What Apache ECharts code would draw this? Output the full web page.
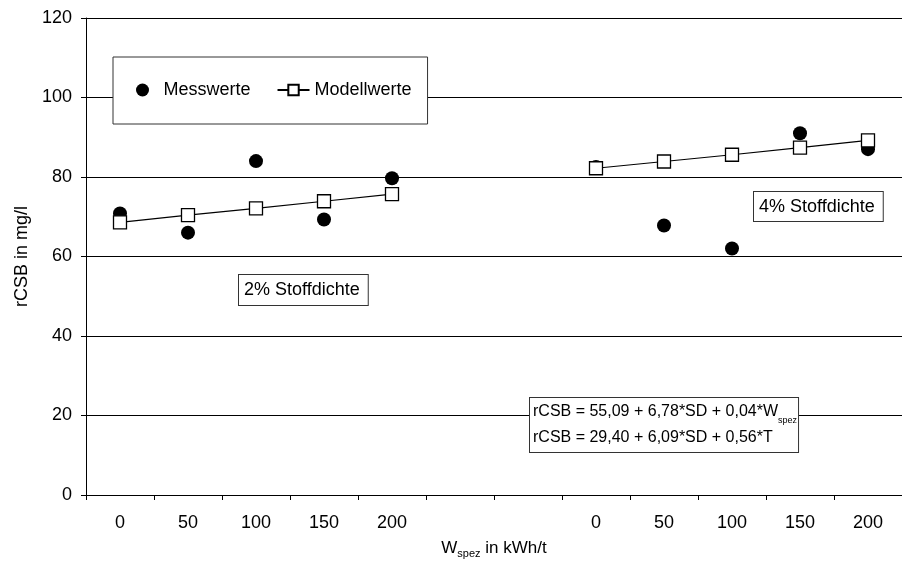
<!DOCTYPE html>
<html>
<head>
<meta charset="utf-8">
<script src="https://cdn.jsdelivr.net/npm/echarts@6/dist/echarts.min.js"></script>
<style>html,body{margin:0;padding:0;background:#fff}#c{width:902px;height:568px}</style>
</head>
<body>
<div id="c"></div>
<script>
const categories = ['0', '50', '100', '150', '200', '', '', '0', '50', '100', '150', '200'];
const messwerte = [70.8, 66.0, 84.0, 69.3, 79.7, null, null, 82.5, 67.8, 62.0, 91.0, 87.0];
const modellwerte = [68.6, 70.4, 72.1, 73.9, 75.7, null, null, 82.2, 83.9, 85.6, 87.4, 89.2];
const yTicks = { min: 0, max: 120, interval: 20 };

const FONT = 'Liberation Sans, Arial, sans-serif';
const FS = 18;
const chart = echarts.init(document.getElementById('c'), null, { renderer: 'canvas' });
chart.setOption({
  animation: false,
  backgroundColor: '#fff',
  textStyle: { fontFamily: FONT, color: '#000' },
  grid: { left: 86, top: 18, width: 820, height: 477, containLabel: false },
  legend: {
    left: 113, top: 57,
    padding: [24, 16, 25, 23],
    itemGap: 26, itemWidth: 32, itemHeight: 13,
    backgroundColor: '#fff', borderColor: '#333', borderWidth: 1,
    textStyle: { fontFamily: FONT, fontSize: FS, color: '#000' },
    data: ['Messwerte', 'Modellwerte']
  },
  xAxis: {
    type: 'category',
    data: categories,
    boundaryGap: true,
    name: '{a|W}{b|spez}{a| in kWh/t}',
    nameLocation: 'middle',
    nameGap: 42,
    nameTextStyle: {
      rich: {
        a: { fontFamily: FONT, fontSize: 17, color: '#000', lineHeight: 22 },
        b: { fontFamily: FONT, fontSize: 11, color: '#000', lineHeight: 10, verticalAlign: 'bottom' }
      }
    },
    axisLine: { lineStyle: { color: '#000', width: 1 } },
    axisTick: { show: true, length: 5, lineStyle: { color: '#000' }, alignWithLabel: false, interval: 0 },
    axisLabel: { interval: 0, margin: 19, fontFamily: FONT, fontSize: FS, color: '#000' },
    splitLine: { show: false }
  },
  yAxis: {
    type: 'value',
    min: yTicks.min, max: yTicks.max, interval: yTicks.interval,
    name: 'rCSB in mg/l',
    nameLocation: 'middle',
    nameGap: 50,
    nameTextStyle: { fontFamily: FONT, fontSize: FS, color: '#000' },
    axisLine: { show: true, lineStyle: { color: '#000', width: 1 } },
    axisTick: { show: true, length: 5, lineStyle: { color: '#000' } },
    axisLabel: { margin: 14, fontFamily: FONT, fontSize: FS, color: '#000' },
    splitLine: { show: true, lineStyle: { color: '#000', width: 1 } }
  },
  series: [
    {
      name: 'Messwerte',
      type: 'scatter',
      data: messwerte,
      symbol: 'circle',
      symbolSize: 14,
      itemStyle: { color: '#000', opacity: 1 },
      z: 2
    },
    {
      name: 'Modellwerte',
      type: 'line',
      data: modellwerte,
      connectNulls: false,
      symbol: 'rect',
      symbolSize: 13,
      showAllSymbol: true,
      lineStyle: { color: '#000', width: 1.2 },
      itemStyle: { color: '#fff', borderColor: '#000', borderWidth: 1.3 },
      z: 3
    }
  ],
  graphic: [
    {
      type: 'text', left: 238, top: 274, z: 10,
      style: {
        text: '2% Stoffdichte', font: FS + 'px ' + FONT, fill: '#000', lineHeight: 20,
        backgroundColor: '#fff', borderColor: '#333', borderWidth: 1,
        padding: [5, 8, 5, 5]
      }
    },
    {
      type: 'text', left: 753, top: 191, z: 10,
      style: {
        text: '4% Stoffdichte', font: FS + 'px ' + FONT, fill: '#000', lineHeight: 20,
        backgroundColor: '#fff', borderColor: '#333', borderWidth: 1,
        padding: [5, 8, 4, 5]
      }
    },
    {
      type: 'text', left: 529, top: 397, z: 10,
      style: {
        text: '{a|rCSB = 55,09 + 6,78*SD + 0,04*W}{b|spez}\n{a|rCSB = 29,40 + 6,09*SD + 0,56*T}',
        rich: {
          a: { fontFamily: FONT, fontSize: 16, fill: '#000', lineHeight: 26 },
          b: { fontFamily: FONT, fontSize: 9, fill: '#000', lineHeight: 16, verticalAlign: 'bottom' }
        },
        backgroundColor: '#fff', borderColor: '#333', borderWidth: 1,
        padding: [1, 1, 1, 3]
      }
    }
  ]
});
</script>
</body>
</html>
